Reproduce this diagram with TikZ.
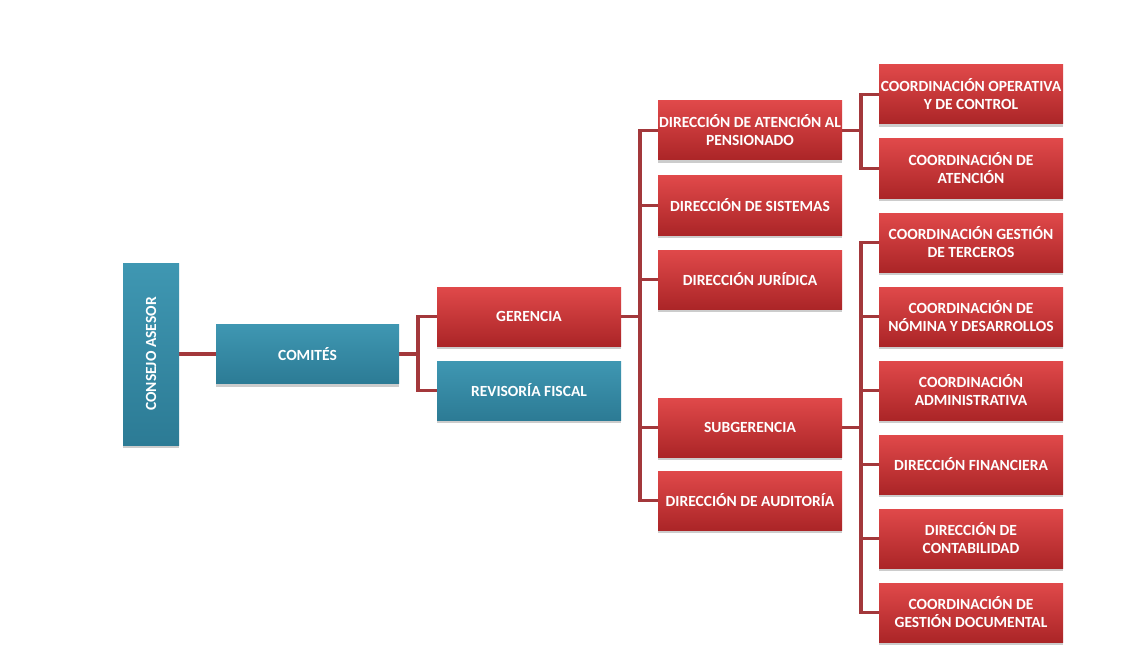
\documentclass[tikz,border=0pt]{standalone}
\usepackage{fontspec}
\setmainfont{Carlito}
\usetikzlibrary{shadows}
\pgfdeclarelayer{bg}
\pgfsetlayers{bg,main}
\definecolor{redtop}{HTML}{E0494A}
\definecolor{redbot}{HTML}{AB2527}
\definecolor{tealtop}{HTML}{3F97B2}
\definecolor{tealbot}{HTML}{2C7B95}
\definecolor{linec}{HTML}{A3383B}
\tikzset{
  lbl/.style={text=white, font=\bfseries\fontsize{15.5}{18}\selectfont},
  box/.style={lbl, minimum width=184pt, minimum height=59pt, inner sep=1pt, align=center,
    drop shadow={shadow xshift=0pt, shadow yshift=-3pt, opacity=0.4}},
  rbox/.style={box, top color=redtop, bottom color=redbot, draw=none},
  tbox/.style={box, top color=tealtop, bottom color=tealbot, draw=none},
  conn/.style={draw=linec, line width=3.2pt, line cap=rect}
}
\begin{document}
\begin{tikzpicture}[x=1pt,y=-1pt]
\useasboundingbox (0,0) rectangle (1134,647);
% nodes
\node[tbox, minimum width=56pt, minimum height=182pt] (consejo) at (151,354) {};
\node[rotate=90, lbl] (consejotxt) at (consejo) {CONSEJO ASESOR};
\node[tbox, minimum width=183pt] (comites) at (307.5,354) {COMITÉS};
\node[rbox] (gerencia) at (529,316.5) {GERENCIA};
\node[tbox] (revisoria) at (529,390.5) {REVISORÍA FISCAL};
\node[rbox] (datp) at (750,130.5) {DIRECCIÓN DE ATENCIÓN AL\\PENSIONADO};
\node[rbox] (dsis) at (750,205.5) {DIRECCIÓN DE SISTEMAS};
\node[rbox] (djur) at (750,279.5) {DIRECCIÓN JURÍDICA};
\node[rbox] (subg) at (750,427.5) {SUBGERENCIA};
\node[rbox] (daud) at (750,500.5) {DIRECCIÓN DE AUDITORÍA};
\node[rbox] (cop) at (971,94.5) {COORDINACIÓN OPERATIVA\\Y DE CONTROL};
\node[rbox] (cat) at (971,168.5) {COORDINACIÓN DE\\ATENCIÓN};
\node[rbox] (cgt) at (971,242.5) {COORDINACIÓN GESTIÓN\\DE TERCEROS};
\node[rbox] (cnd) at (971,316.5) {COORDINACIÓN DE\\NÓMINA Y DESARROLLOS};
\node[rbox] (cad) at (971,390.5) {COORDINACIÓN\\ADMINISTRATIVA};
\node[rbox] (dfin) at (971,464.5) {DIRECCIÓN FINANCIERA};
\node[rbox] (dcon) at (971,538.5) {DIRECCIÓN DE\\CONTABILIDAD};
\node[rbox] (cgd) at (971,612.5) {COORDINACIÓN DE\\GESTIÓN DOCUMENTAL};
% junction points
\coordinate (c1) at (418,354);
\coordinate (c2) at (640,316.5);
\coordinate (c3) at (861,130.5);
\coordinate (c4) at (861,427.5);
% background and connectors, behind the boxes
\begin{pgfonlayer}{bg}
\fill[white] (0,0) rectangle (1134,647);
\draw[conn] (consejo.east) -- (comites.west);
\draw[conn] (comites.east) -- (c1);
\foreach \n in {gerencia,revisoria} \draw[conn] (c1) |- (\n.west);
\draw[conn] (gerencia.east) -- (c2);
\foreach \n in {datp,dsis,djur,subg,daud} \draw[conn] (c2) |- (\n.west);
\draw[conn] (datp.east) -- (c3);
\foreach \n in {cop,cat} \draw[conn] (c3) |- (\n.west);
\draw[conn] (subg.east) -- (c4);
\foreach \n in {cgt,cnd,cad,dfin,dcon,cgd} \draw[conn] (c4) |- (\n.west);
\end{pgfonlayer}
\end{tikzpicture}
\end{document}
